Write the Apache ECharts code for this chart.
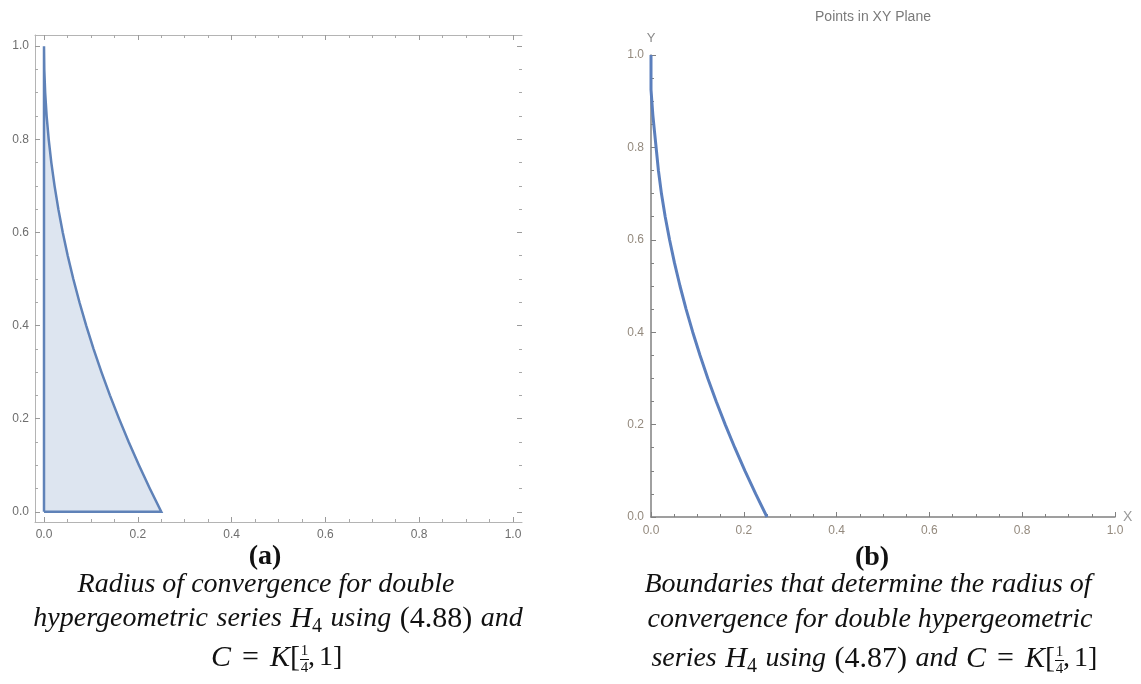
<!DOCTYPE html>
<html>
<head>
<meta charset="utf-8">
<title>Convergence region of H4</title>
<script src="https://cdn.jsdelivr.net/npm/echarts@6/dist/echarts.min.js"></script>
<style>
  html, body { margin: 0; padding: 0; background: #fff; }
  #chart { width: 1141px; height: 684px; }
</style>
</head>
<body>
<div id="chart"></div>
<script>
// Boundary of the convergence region (panel a): x values along the curve for each y
const regionY = [1.0, 0.95, 0.9, 0.85, 0.8, 0.75, 0.7, 0.65, 0.6, 0.55, 0.5, 0.45, 0.4, 0.35, 0.3, 0.25, 0.2, 0.15, 0.1, 0.05, 0.0];
const regionX = [0.0, 0.0006, 0.0025, 0.0056, 0.01, 0.0156, 0.0225, 0.0306, 0.04, 0.0506, 0.0625, 0.0756, 0.09, 0.1056, 0.1225, 0.1406, 0.16, 0.1806, 0.2025, 0.2256, 0.25];

// Boundary points in the XY plane (panel b)
const planeX = [0.0, 0.0, 0.004, 0.004, 0.008, 0.008, 0.012, 0.016, 0.0225, 0.0306, 0.04, 0.0506, 0.0625, 0.0756, 0.09, 0.1056, 0.1225, 0.1406, 0.16, 0.1806, 0.2025, 0.2256, 0.25];
const planeY = [1.0, 0.925, 0.925, 0.87, 0.87, 0.83, 0.79, 0.75, 0.7, 0.65, 0.6, 0.55, 0.5, 0.45, 0.4, 0.35, 0.3, 0.25, 0.2, 0.15, 0.1, 0.05, 0.0];

// Frame ticks
const majorTicks = [0, 0.2, 0.4, 0.6, 0.8, 1.0];
const minorTicks = [0.05, 0.1, 0.15, 0.25, 0.3, 0.35, 0.45, 0.5, 0.55, 0.65, 0.7, 0.75, 0.85, 0.9, 0.95];

const BLUE = '#5f82b8';
const FRAME = '#b4b4b4';
const SANS = '"Liberation Sans", Arial, sans-serif';
const SERIF = '"Liberation Serif", "Times New Roman", serif';

// closed outline of the region: up the left edge, down the curve, back along the bottom
const regionData = [[0, 0]];
for (let i = 0; i < regionY.length; i++) regionData.push([regionX[i], regionY[i]]);
regionData.push([0, 0]);

const planeData = planeX.map((x, i) => [x, planeY[i]]);

const fmt = v => v.toFixed(1);

const hiddenLine = { show: false, onZero: false };

function frameAxis(opts) {
  return Object.assign({
    type: 'value',
    gridIndex: 0,
    splitLine: { show: false },
    axisLine: { show: true, onZero: false, lineStyle: { color: FRAME, width: 1 } },
    axisTick: { show: true, inside: true, length: 5, lineStyle: { color: '#9a9a9a' }, customValues: majorTicks },
    axisLabel: { show: false }
  }, opts);
}

const xFrame = { min: -0.0192, max: 1.0192 };
const yFrame = { min: -0.022, max: 1.024 };
const minorTick = { show: true, inside: true, length: 3, lineStyle: { color: '#a8a8a8' }, customValues: minorTicks };
const frameLabel = {
  show: true, customValues: majorTicks, formatter: fmt,
  color: '#6e6e6e', fontSize: 12, fontFamily: SANS
};

const planeAxisLabel = { color: '#948a7e', fontSize: 12, fontFamily: SANS };

function caption(text, x, y, extra) {
  return {
    type: 'text', silent: true,
    style: Object.assign({
      text: text, x: x, y: y,
      fill: '#111', fontFamily: SERIF, fontSize: 28, fontStyle: 'italic',
      align: 'center', verticalAlign: 'middle'
    }, extra || {})
  };
}

// i: italic prose, m: math italic, r/q: upright math, s: subscript, w/e: spaces, t: thin space
function tok(size, style, extra) {
  return Object.assign({ fontFamily: SERIF, fontSize: size, fontStyle: style, fill: '#111', lineHeight: 36 }, extra || {});
}
const mathRich = {
  i: tok(28, 'italic'),
  m: tok(30, 'italic'),
  r: tok(30, 'normal'),
  q: tok(28, 'normal'),
  s: tok(20, 'normal', { verticalAlign: 'bottom' }),
  w: tok(34, 'normal'),
  e: tok(44, 'normal'),
  t: tok(16, 'normal')
};

function fraction(cx, dy) {
  return [
    { type: 'text', silent: true, style: { text: '1', x: cx, y: 651 + dy, align: 'center', verticalAlign: 'middle', fontFamily: SERIF, fontSize: 15, fill: '#111' } },
    { type: 'line', silent: true, shape: { x1: cx - 4.5, y1: 659.5 + dy, x2: cx + 4.5, y2: 659.5 + dy }, style: { stroke: '#111', lineWidth: 1 } },
    { type: 'text', silent: true, style: { text: '4', x: cx, y: 668 + dy, align: 'center', verticalAlign: 'middle', fontFamily: SERIF, fontSize: 15, fill: '#111' } }
  ];
}

const chart = echarts.init(document.getElementById('chart'), null, { renderer: 'canvas' });

chart.setOption({
  animation: false,
  backgroundColor: '#fff',
  grid: [
    { left: 35, right: 619, top: 35, bottom: 162 },
    { left: 651, right: 26, top: 55, bottom: 167 }
  ],
  xAxis: [
    frameAxis(Object.assign({ position: 'bottom', axisLabel: Object.assign({ margin: 7 }, frameLabel) }, xFrame)),
    frameAxis(Object.assign({ position: 'bottom', axisLine: hiddenLine, axisTick: minorTick }, xFrame)),
    frameAxis(Object.assign({ position: 'top' }, xFrame)),
    frameAxis(Object.assign({ position: 'top', axisLine: hiddenLine, axisTick: minorTick }, xFrame)),
    {
      type: 'value', gridIndex: 1, min: 0, max: 1, interval: 0.2,
      name: 'X', nameLocation: 'end', nameGap: 8,
      nameTextStyle: { color: '#9a9a9a', fontSize: 14, fontFamily: SANS },
      splitLine: { show: false },
      axisLine: { show: true, onZero: false, lineStyle: { color: '#808080', width: 1.5 } },
      axisTick: { show: true, inside: true, length: 5, lineStyle: { color: '#808080' } },
      minorTick: { show: true, splitNumber: 4, length: 3, lineStyle: { color: '#808080' } },
      axisLabel: Object.assign({ formatter: fmt, margin: 8 }, planeAxisLabel)
    }
  ],
  yAxis: [
    frameAxis(Object.assign({ position: 'left', axisLabel: Object.assign({ margin: 6 }, frameLabel) }, yFrame)),
    frameAxis(Object.assign({ position: 'left', axisLine: hiddenLine, axisTick: minorTick }, yFrame)),
    frameAxis(Object.assign({ position: 'right', axisLine: hiddenLine }, yFrame)),
    frameAxis(Object.assign({ position: 'right', axisLine: hiddenLine, axisTick: minorTick }, yFrame)),
    {
      type: 'value', gridIndex: 1, min: 0, max: 1, interval: 0.2,
      name: 'Y', nameLocation: 'end', nameGap: 10,
      nameTextStyle: { color: '#8a8a8a', fontSize: 13, fontFamily: SANS, align: 'center' },
      splitLine: { show: false },
      axisLine: { show: true, onZero: false, lineStyle: { color: '#808080', width: 1.5 } },
      axisTick: { show: true, inside: true, length: 5, lineStyle: { color: '#808080' } },
      minorTick: { show: true, splitNumber: 4, length: 3, lineStyle: { color: '#808080' } },
      axisLabel: Object.assign({ formatter: fmt, margin: 7 }, planeAxisLabel)
    }
  ],
  series: [
    {
      type: 'line', xAxisIndex: 0, yAxisIndex: 0,
      data: regionData, showSymbol: false, smooth: false,
      lineStyle: { color: BLUE, width: 2.5, join: 'miter' },
      areaStyle: { color: 'rgba(95,130,184,0.3)', origin: 0 },
      z: 3
    },
    {
      type: 'line', xAxisIndex: 4, yAxisIndex: 4,
      data: planeData, showSymbol: false, smooth: false,
      lineStyle: { color: '#5b7fbd', width: 3 },
      z: 3
    }
  ],
  graphic: [
    {
      type: 'text', silent: true,
      style: { text: 'Points in XY Plane', x: 873, y: 17, align: 'center', verticalAlign: 'middle', fontFamily: SANS, fontSize: 14, fill: '#7a7a7a' }
    },
    // caption (a)
    caption('(a)', 265, 557, { fontStyle: 'normal', fontWeight: 'bold' }),
    caption('Radius of convergence for double', 266, 585),
    caption('{i|hypergeometric}{w| }{i|series}{w| }{m|H}{s|4}{w| }{i|using}{w| }{r|(4.88)}{w| }{i|and}', 278, 619, { rich: mathRich }),
    caption('{m|C}{e| }{r|=}{e| }{m|K}{r|[}', 300, 658, { rich: mathRich, align: 'right' }),
    caption('{q|,}{t| }{q|1]}', 308, 658, { rich: mathRich, align: 'left' }),
    ...fraction(304.5, 0),
    // caption (b)
    caption('(b)', 872, 558, { fontStyle: 'normal', fontWeight: 'bold' }),
    caption('Boundaries that determine the radius of', 868, 585),
    caption('convergence for double hypergeometric', 870, 620),
    caption('{i|series}{w| }{m|H}{s|4}{w| }{i|using}{w| }{r|(4.87)}{w| }{i|and}{w| }{m|C}{e| }{r|=}{e| }{m|K}{r|[}', 1055, 659, { rich: mathRich, align: 'right' }),
    caption('{q|,}{t| }{q|1]}', 1063, 659, { rich: mathRich, align: 'left' }),
    ...fraction(1059.5, 1)
  ]
});
</script>
</body>
</html>
